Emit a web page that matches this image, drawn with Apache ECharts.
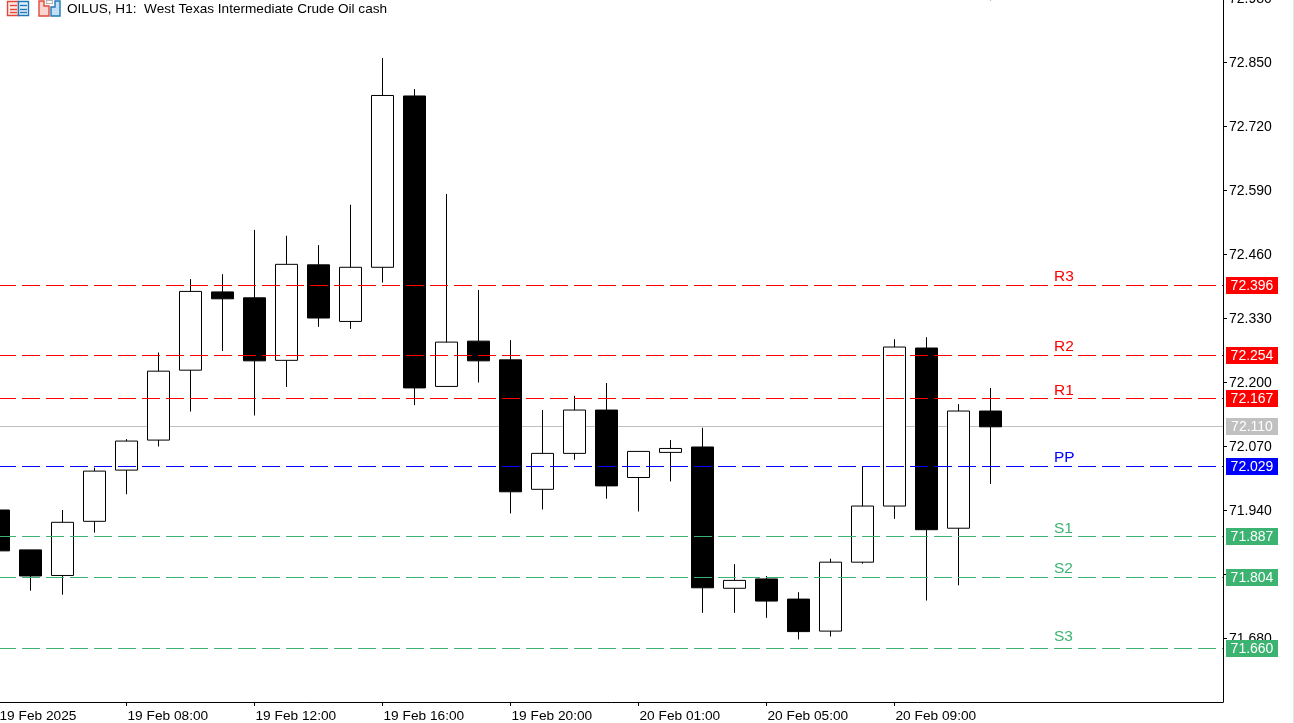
<!DOCTYPE html>
<html>
<head>
<meta charset="utf-8">
<title>OILUS H1</title>
<style>html,body{margin:0;padding:0;background:#fff;overflow:hidden}#c{width:1294px;height:723px}</style>
<script src="https://cdn.jsdelivr.net/npm/echarts@6/dist/echarts.min.js"></script>
</head>
<body>
<div id="c"></div>
<script>
// Hourly bars
const opens  = [71.940,71.859,71.807,71.917,72.021,72.082,72.224,72.383,72.371,72.244,72.438,72.323,72.433,72.781,72.191,72.283,72.245,71.982,72.055,72.143,72.006,72.057,72.068,71.781,71.800,71.759,71.694,71.834,71.948,72.269,71.903,72.141];
const closes = [71.857,71.806,71.915,72.019,72.080,72.222,72.384,72.369,72.243,72.439,72.330,72.433,72.782,72.188,72.281,72.243,71.977,72.055,72.143,71.989,72.059,72.065,71.782,71.797,71.755,71.693,71.834,71.948,72.271,71.900,72.141,72.109];
const lows   = [71.847,71.776,71.768,71.894,71.972,72.069,72.140,72.263,72.132,72.190,72.312,72.308,72.402,72.153,72.191,72.199,71.933,71.941,72.042,71.963,71.937,71.998,71.731,71.731,71.721,71.677,71.683,71.831,71.922,71.756,71.787,71.993];
const highs  = [71.950,71.859,71.940,72.026,72.084,72.260,72.409,72.419,72.509,72.497,72.478,72.560,72.858,72.795,72.582,72.387,72.285,72.143,72.172,72.198,72.059,72.082,72.107,71.830,71.806,71.773,71.841,72.029,72.287,72.291,72.155,72.188];

const xTickValues = [0,4,8,12,16,20,24,28];
const xTickLabels = ['19 Feb 2025','19 Feb 08:00','19 Feb 12:00','19 Feb 16:00','19 Feb 20:00','20 Feb 01:00','20 Feb 05:00','20 Feb 09:00'];
const yTickValues = [71.68,71.81,71.94,72.07,72.20,72.33,72.46,72.59,72.72,72.85,72.98];

// Pivot levels
const levelNames  = ['R3','R2','R1','PP','S1','S2','S3'];
const levelValues = [72.396,72.254,72.167,72.029,71.887,71.804,71.660];
const levelTextAt = [72.413,72.271,72.182,72.046,71.901,71.820,71.683];
const levelColors = ['#ff0000','#ff0000','#ff0000','#0000ff','#3cb371','#3cb371','#3cb371'];
const lastPrice   = [72.110];

const FONT = '"Liberation Sans", Arial, sans-serif';
const candleData = opens.map((o, i) => [i, o, closes[i], lows[i], highs[i]]);
const rightX = 1240.5 / 32 - 0.5;

function priceTag(api, params, value, color) {
  const cs = params.coordSys;
  const end = cs.x + cs.width;
  const row = Math.round(api.coord([0, value])[1] - 0.25);
  return {row, end, tag: [
    {type:'rect', shape:{x:end+3, y:row-8, width:52, height:17}, style:{fill:color}},
    {type:'text', style:{x:end+29, y:row+1.5, text:value.toFixed(3), fill:'#fff', font:'14px '+FONT, align:'center', verticalAlign:'middle'}}
  ]};
}

const chart = echarts.init(document.getElementById('c'), null, {renderer:'canvas', width:1294, height:723});
chart.setOption({
  animation:false,
  backgroundColor:'#ffffff',
  grid:{left:-17.5, right:71, top:-2, bottom:21, containLabel:false, outerBoundsMode:'none'},
  xAxis:{
    type:'value', min:-0.5, max:rightX, splitLine:{show:false},
    axisLine:{show:true, onZero:false, lineStyle:{color:'#000', width:1}},
    axisTick:{show:true, length:4, lineStyle:{color:'#000'}, customValues:xTickValues},
    axisLabel:{customValues:xTickValues, align:'left', margin:7, padding:[0,0,0,1], color:'#000', fontSize:13.7, fontFamily:FONT,
      hideOverlap:false, formatter:v => xTickLabels[xTickValues.indexOf(v)]}
  },
  yAxis:{
    type:'value', position:'right', min:71.55, max:72.98, scale:true, splitLine:{show:false},
    axisLine:{show:true, onZero:false, lineStyle:{color:'#000', width:1}},
    axisTick:{show:true, length:4, lineStyle:{color:'#000'}, customValues:yTickValues},
    axisLabel:{customValues:yTickValues, margin:6, verticalAlign:'top', lineHeight:2, color:'#000', fontSize:14, fontFamily:FONT,
      hideOverlap:false, formatter:v => v.toFixed(3)}
  },
  graphic:{elements:[
    {type:'group', silent:true, z:20, children:[
      {type:'rect', shape:{x:7.5,y:1.5,width:11,height:14}, style:{fill:'#fde8e4',stroke:'#e2493c',lineWidth:1.4}},
      {type:'rect', shape:{x:18.5,y:1.5,width:10,height:14}, style:{fill:'#e3f1fb',stroke:'#1f78b8',lineWidth:1.4}},
      {type:'line', shape:{x1:10,y1:5.5,x2:17,y2:5.5}, style:{stroke:'#e2493c',lineWidth:1.4}},
      {type:'line', shape:{x1:10,y1:9.5,x2:17,y2:9.5}, style:{stroke:'#e2493c',lineWidth:1.4}},
      {type:'line', shape:{x1:10,y1:12.5,x2:17,y2:12.5}, style:{stroke:'#e2493c',lineWidth:1.4}},
      {type:'line', shape:{x1:20,y1:5.5,x2:27,y2:5.5}, style:{stroke:'#1f78b8',lineWidth:1.4}},
      {type:'line', shape:{x1:20,y1:9.5,x2:27,y2:9.5}, style:{stroke:'#1f78b8',lineWidth:1.4}},
      {type:'line', shape:{x1:20,y1:12.5,x2:27,y2:12.5}, style:{stroke:'#1f78b8',lineWidth:1.4}},
      {type:'polygon', shape:{points:[[39,1],[44,1],[44,6],[49,6],[49,16],[39,16]]}, style:{fill:'#fbd5cf',stroke:'#e2493c',lineWidth:1.4}},
      {type:'polygon', shape:{points:[[51,16],[51,7],[55,7],[55,1],[60,1],[60,16]]}, style:{fill:'#c2e0f5',stroke:'#1f78b8',lineWidth:1.4}},
      {type:'rect', shape:{x:46.5,y:0.5,width:6,height:3}, style:{fill:'#fff',stroke:'#b5b5b5',lineWidth:1.2}},
      {type:'text', style:{x:67, y:9.5, text:'OILUS, H1:  West Texas Intermediate Crude Oil cash', fill:'#000', font:'13.6px '+FONT, verticalAlign:'middle'}},
      {type:'rect', shape:{x:990,y:0,width:1,height:1}, style:{fill:'#bdbdbd'}},
      {type:'rect', shape:{x:1293,y:0,width:1,height:723}, style:{fill:'#e3e3e3'}}
    ]}
  ]},
  series:[
    {
      name:'last', type:'custom', z:1, silent:true, clip:false, data:lastPrice.map(v=>[v]),
      encode:{y:0},
      renderItem(params, api){
        const v = api.value(0);
        const t = priceTag(api, params, v, '#c0c0c0');
        return {type:'group', children:[
          {type:'line', shape:{x1:api.coord([0,v])[0], y1:t.row+0.5, x2:t.end, y2:t.row+0.5}, style:{stroke:'#c0c0c0', lineWidth:1}},
          ...t.tag
        ]};
      }
    },
    {
      name:'OILUS', type:'candlestick', z:2, barWidth:22, silent:true, data:candleData,
      itemStyle:{color:'#ffffff', color0:'#000000', borderColor:'#000000', borderColor0:'#000000', borderColorDoji:'#000000', borderWidth:1}
    },
    {
      name:'pivots', type:'custom', z:5, silent:true, clip:false,
      data:levelValues.map((v,i)=>[v, levelTextAt[i], i]),
      encode:{y:0},
      renderItem(params, api){
        const v = api.value(0), i = api.value(2), color = levelColors[i];
        const t = priceTag(api, params, v, color);
        const textPos = api.coord([33, api.value(1)]);
        return {type:'group', children:[
          {type:'line', shape:{x1:api.coord([0,v])[0]-0.5, y1:t.row+0.5, x2:t.end, y2:t.row+0.5}, style:{stroke:color, lineWidth:1, lineDash:[18,6]}},
          {type:'text', style:{x:textPos[0]-0.5, y:textPos[1], text:levelNames[i], fill:color, font:'15.5px '+FONT, verticalAlign:'middle'}},
          ...t.tag
        ]};
      }
    }
  ]
});
</script>
</body>
</html>
